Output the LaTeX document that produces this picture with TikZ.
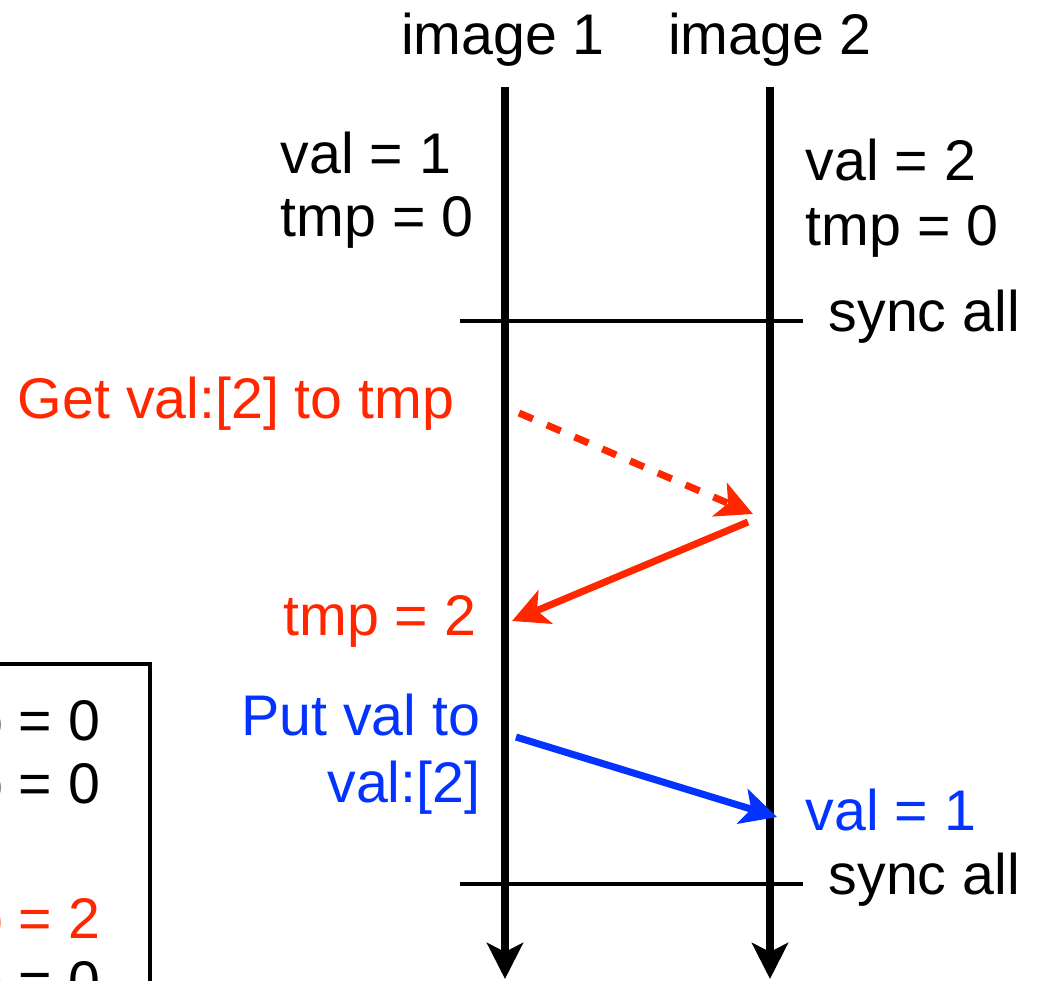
\documentclass[tikz,border=0pt]{standalone}
\usepackage{fontspec}
\setmainfont{Liberation Sans}
\usetikzlibrary{arrows.meta, positioning, calc}
\definecolor{GetRed}{HTML}{FF2600}
\definecolor{PutBlue}{HTML}{0433FF}
\tikzset{
  label/.style={inner sep=0pt, font=\fontsize{16.3}{19}\selectfont},
  lifeline/.style={-{Stealth[length=3.6mm, width=3.6mm, inset=0.9mm]}, line width=2.3pt, draw=black},
  syncline/.style={line width=0.9pt, draw=black},
  getarrow/.style={-{Stealth[length=3.6mm, width=3.6mm, inset=0.9mm]}, line width=2pt, draw=GetRed},
  putarrow/.style={-{Stealth[length=3.6mm, width=3.6mm, inset=0.9mm]}, line width=2pt, draw=PutBlue}
}
\begin{document}
\begin{tikzpicture}[x=0.01cm, y=-0.01cm]
\useasboundingbox (0,0) rectangle (1041,981);
% images and lifelines
\node[label, anchor=base] (img1) at (503,54) {image 1};
\node[label, anchor=base] (img2) at (770,54) {image 2};
\coordinate (top1) at (505,87);
\coordinate (bot1) at (505,979);
\coordinate (top2) at (770,87);
\coordinate (bot2) at (770,979);
\draw[lifeline] (top1) -- (bot1);
\draw[lifeline] (top2) -- (bot2);
% initial values
\node[label, anchor=base west] (val1) at (280,173) {val = 1};
\node[label, anchor=base west] (tmp1) at (280,236) {tmp = 0};
\node[label, anchor=base west] (val2) at (805,180) {val = 2};
\node[label, anchor=base west] (tmp2) at (805,245) {tmp = 0};
% sync points
\coordinate (syncA) at (460,321);
\coordinate (syncB) at (803,321);
\draw[syncline] (syncA) -- (syncB);
\node[label, anchor=base west] (syncall1) at (828,331) {sync all};
\coordinate (syncC) at (460,884);
\coordinate (syncD) at (803,884);
\draw[syncline] (syncC) -- (syncD);
\node[label, anchor=base west] (syncall2) at (828,894) {sync all};
% get
\node[label, anchor=base east, text=GetRed] (get) at (455,418) {Get val:[2] to tmp};
\coordinate (getfrom) at (519,413);
\coordinate (getto) at (753,514);
\draw[getarrow, dash pattern=on 4.3pt off 4.3pt] (getfrom) -- (getto);
\coordinate (retfrom) at (748,522);
\coordinate (retto) at (512,621);
\draw[getarrow] (retfrom) -- (retto);
\node[label, anchor=base east, text=GetRed] (tmpnew) at (477,635) {tmp = 2};
% put
\node[label, anchor=base east, text=PutBlue] (put1) at (481,735) {Put val to};
\node[label, anchor=base east, text=PutBlue] (put2) at (481,802) {val:[2]};
\coordinate (putfrom) at (516,737);
\coordinate (putto) at (777,817);
\draw[putarrow] (putfrom) -- (putto);
\node[label, anchor=base west, text=PutBlue] (valnew) at (805,830) {val = 1};
% cut-off box
\node[draw, line width=1.2pt, inner sep=0pt, minimum width=2.2cm, minimum height=4cm, anchor=north east] (legend) at (152,662) {};
\node[label, anchor=base east] (lg1) at (101,740) {tmp = 0};
\node[label, anchor=base east] (lg2) at (101,803) {tmp = 0};
\node[label, anchor=base east, text=GetRed] (lg3) at (101,938) {tmp = 2};
\node[label, anchor=base east] (lg4) at (101,1001) {tmp = 0};
\end{tikzpicture}
\end{document}
